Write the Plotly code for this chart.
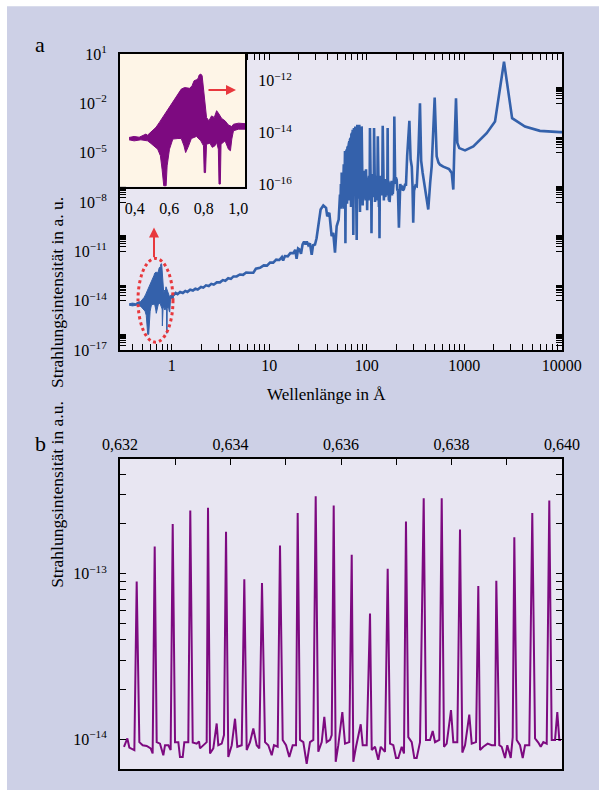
import plotly.graph_objects as go

# ---------------- DATA ----------------
# Panel a / inset: dense spectrum 0.37-1.04 Å drawn as an envelope band
# wavelength in Å, log10 of intensity (a.u.)
band_upper_x = [0.3666, 0.3959, 0.4252, 0.4643, 0.474, 0.4937, 0.5093, 0.523, 0.5425, 0.562,
                0.5816, 0.6012, 0.6207, 0.6403, 0.6598, 0.6696, 0.6892, 0.7185, 0.7322, 0.7439,
                0.7576, 0.7674, 0.7732, 0.783, 0.7908, 0.7967, 0.8065, 0.8162, 0.8299, 0.8456,
                0.8612, 0.8749, 0.8886, 0.9042, 0.9238, 0.9433, 0.9629, 0.9726, 1.002, 1.041]
band_upper_log = [-14.18, -14.14, -14.17, -14.05, -14.09, -13.96, -13.86, -13.79, -13.60, -13.41,
                  -13.22, -13.03, -12.83, -12.64, -12.45, -12.32, -12.26, -12.29, -12.19, -12.00,
                  -11.96, -11.91, -11.78, -11.74, -11.81, -12.19, -12.83, -13.41, -13.54, -13.35,
                  -13.41, -13.15, -13.28, -13.45, -13.54, -13.70, -13.76, -13.67, -13.63, -13.65]
band_lower_x = [0.3666, 0.3959, 0.435, 0.474, 0.4937, 0.5132, 0.5328, 0.5484, 0.5582, 0.5679,
                0.5816, 0.5875, 0.6012, 0.6207, 0.6501, 0.6696, 0.6853, 0.695, 0.7087, 0.7283,
                0.7576, 0.783, 0.7986, 0.8026, 0.8104, 0.8162, 0.8358, 0.8495, 0.8651, 0.8749,
                0.8847, 0.8886, 0.8964, 0.9003, 0.9238, 0.9433, 0.955, 0.9629, 0.9726, 1.002, 1.041]
band_lower_log = [-14.27, -14.31, -14.27, -14.31, -14.41, -14.50, -14.63, -14.88, -15.40, -16.04,
                  -16.04, -15.27, -14.63, -14.24, -14.22, -14.22, -14.50, -14.76, -14.56, -14.22,
                  -14.14, -14.31, -14.50, -15.53, -15.53, -14.44, -14.40, -14.56, -14.50, -14.37,
                  -14.63, -15.97, -15.97, -14.44, -14.31, -14.63, -14.69, -14.24, -13.92, -13.86, -13.86]

# Panel a: rest of the spectrum (wavelength in Å, log10 intensity)
main_x = [1.041, 1.1, 1.15, 1.22, 1.3, 1.38, 1.45, 1.55, 1.65, 1.75, 1.85, 2.0, 2.11, 2.25, 2.4,
          2.55, 2.7, 2.9, 3.13, 3.35, 3.55, 3.8, 4.05, 4.3, 4.64, 5.0, 5.4, 5.8, 6.3, 6.87,
          7.3, 8.05, 8.8, 9.5, 10.2, 11.0, 11.8, 12.7, 13.5, 13.9, 14.5, 15.5, 16.5, 17.7, 18.5,
          19.1, 19.8, 20.5, 21.2, 22.0, 22.8, 23.6, 24.3, 25.2, 26.2, 27.3, 28.2, 29.5, 30.6, 31.9,
          33.7, 35.9, 38.3, 39.4, 41.4, 43.7, 45.4, 47.3, 49.2, 51.6,
          53.2, 53.8, 54.4, 55.0, 55.4, 55.9, 56.3, 56.8, 57.2, 57.7, 58.2, 58.7, 59.3, 59.9, 60.3,
          60.5, 60.9, 61.4, 61.9, 62.4, 62.9, 63.4, 63.9, 64.4, 64.9, 65.4, 65.9, 66.4, 66.9, 67.4,
          67.9, 68.5, 69.0, 69.6, 70.2, 70.8, 71.3, 71.8, 72.4, 72.9, 73.4, 74.0, 74.6, 75.2, 75.8,
          76.4, 77.0, 77.6, 78.2, 79.0, 79.6, 80.1, 80.8, 81.4, 82.0, 82.7, 83.4, 84.0, 84.7, 85.4,
          86.1, 86.8, 87.5, 88.1, 88.8, 89.5, 90.2, 91.0, 91.8, 92.6, 93.4, 94.2, 95.0, 95.8, 96.6,
          97.4, 98.4, 99.3, 100.2, 101.1, 102.0, 102.9, 103.8, 104.7, 105.6, 106.5, 107.3, 108.0, 108.8, 109.6,
          110.4, 111.2, 112.0, 112.8, 113.7, 114.6, 115.5, 116.4, 117.3, 118.2, 119.0, 119.9, 120.8, 121.8, 122.8,
          123.8, 124.8, 125.8, 126.8, 127.8, 128.9, 130.0, 131.1, 132.2, 133.4, 134.5, 135.3, 136.3, 137.4, 138.6,
          139.8, 141.0, 142.2, 143.4, 144.6, 146.0, 147.3, 148.6, 150.0, 151.4, 152.8, 154.2, 155.6, 157.0, 158.4,
          159.9, 161.4, 162.8, 164.0, 165.5, 167.0, 168.6, 170.2, 171.8, 173.4, 175.0, 176.6, 178.3, 180.0, 181.7,
          183.4, 185.2, 187.0, 188.8, 190.5, 192.0, 193.8, 196.0, 199.0, 203.0, 206.0, 209.0, 214.0, 218.0, 221.0,
          224.0, 229.0, 235.0, 241.0, 247.0, 253.0, 260.0, 274.0, 282.0, 290.0, 295.0, 300.0, 306.0, 316.0, 326.0,
          339.0, 352.0, 362.0, 375.0, 396.0, 428.0, 448.0, 464.0, 498.0, 512.0, 522.0, 545.0, 565.0, 610.0, 661.0,
          700.0, 745.0, 773.0, 790.0, 824.0, 850.0, 890.0, 1020.0, 1240.0, 1700.0, 2070.0, 2560.0, 3100.0, 4200.0, 5980.0,
          9600.0, 10100.0]
main_log = [-13.66, -13.52, -13.60, -13.47, -13.53, -13.40, -13.46, -13.33, -13.38, -13.26, -13.31, -13.16, -13.20, -13.06, -13.10,
            -12.97, -13.02, -12.88, -12.88, -12.74, -12.78, -12.63, -12.67, -12.52, -12.52, -12.40, -12.42, -12.28, -12.30, -12.30,
            -12.05, -12.00, -11.85, -11.86, -11.68, -11.68, -11.50, -11.52, -11.34, -11.55, -11.28, -11.30, -11.10, -11.10, -10.90,
            -11.45, -10.82, -10.88, -11.15, -10.58, -10.40, -10.58, -10.40, -10.62, -10.52, -11.20, -10.62, -10.58, -10.20, -9.47,
            -8.45, -8.21, -8.35, -8.86, -8.65, -10.07, -9.87, -11.08, -9.47, -9.06,
            -7.55, -8.20, -6.90, -8.40, -6.20, -8.10, -6.50, -8.30, -5.90, -8.00, -5.70, -8.40, -5.30, -4.90, -8.20,
            -10.50, -7.50, -5.00, -7.90, -4.80, -8.10, -4.70, -7.60, -4.60, -7.90, -4.50, -7.40, -4.30, -7.80, -4.20,
            -7.60, -4.10, -8.30, -3.90, -7.70, -3.80, -7.90, -3.60, -8.00, -10.00, -7.20, -3.50, -7.50, -3.50, -7.60,
            -3.40, -7.80, -3.40, -8.10, -10.30, -7.40, -3.30, -7.80, -3.35, -7.70, -3.40, -7.50, -3.30, -7.40, -8.60,
            -3.50, -7.30, -6.80, -7.60, -3.40, -7.20, -6.30, -8.20, -6.50, -7.40, -6.10, -7.80, -6.40, -7.30, -6.20,
            -7.90, -6.00, -7.40, -6.60, -8.50, -6.50, -7.60, -6.70, -7.90, -6.40, -7.50, -6.80, -3.50, -7.40, -6.50,
            -7.80, -6.60, -9.90, -7.20, -6.30, -7.60, -6.50, -7.70, -6.40, -7.50, -3.50, -7.30, -6.50, -8.00, -6.40,
            -7.60, -6.60, -7.90, -6.50, -7.30, -6.60, -4.00, -7.50, -6.60, -8.30, -7.00, -10.20, -7.20, -6.40, -7.60,
            -6.60, -7.40, -6.50, -7.60, -6.70, -3.36, -7.40, -6.60, -7.90, -6.70, -7.50, -6.60, -7.70, -6.80, -7.30,
            -6.60, -7.50, -6.80, -3.50, -7.60, -6.70, -7.90, -6.80, -8.00, -6.90, -7.60, -6.80, -7.40, -6.70, -7.60,
            -6.90, -7.50, -6.80, -7.20, -6.50, -2.80, -6.40, -6.90, -6.50, -6.64, -7.30, -7.20, -9.56, -7.30, -6.90,
            -7.10, -7.00, -7.30, -7.20, -6.95, -6.95, -5.20, -3.06, -5.40, -5.85, -7.00, -9.26, -7.30, -7.00, -7.04,
            -5.00, -1.99, -5.50, -6.23, -7.24, -8.45, -6.80, -5.83, -1.65, -4.50, -5.22, -5.60, -5.73, -5.85, -5.93,
            -6.00, -6.23, -7.24, -5.00, -1.69, -4.40, -4.72, -4.86, -4.62, -3.81, -3.10, 0.53, -2.90, -3.41, -3.67,
            -3.75, -3.75]

# Panel b: line peaks (wavelength in Å, intensity in units of 1e-14 a.u.)
b_peak_x = [0.632302, 0.632628, 0.632954, 0.633272, 0.633593, 0.633919, 0.634250, 0.634570,
            0.634896, 0.635216, 0.635542, 0.635868, 0.636194, 0.636525, 0.636845, 0.637176,
            0.637497, 0.637823, 0.638154, 0.638485, 0.638811, 0.639137, 0.639462, 0.639770]
b_peak_y = [8.98, 14.6, 19.95, 24.1, 25.0, 17.9, 9.24, 8.79, 14.8, 23.3, 29.4, 25.8,
            13.0, 5.74, 10.7, 20.7, 28.6, 28.6, 18.5, 8.43, 9.07, 16.6, 23.3, 27.7]
# Panel b: background between the lines
b_base_x = [0.632072, 0.632133, 0.632169, 0.632260,
            0.632350, 0.632411, 0.632483, 0.632555, 0.632591,
            0.632664, 0.632724, 0.632784, 0.632815, 0.632875, 0.632917,
            0.632996, 0.633056, 0.633086, 0.633135, 0.633164, 0.633236,
            0.633316, 0.633388, 0.633430, 0.633448, 0.633508, 0.633569,
            0.633629, 0.633689, 0.633750, 0.633779, 0.633841, 0.633882,
            0.633960, 0.634022, 0.634082, 0.634123, 0.634203,
            0.634293, 0.634353, 0.634413, 0.634474, 0.634521,
            0.634625, 0.634684, 0.634746, 0.634787, 0.634854,
            0.634945, 0.635005, 0.635064, 0.635126, 0.635186,
            0.635258, 0.635318, 0.635379, 0.635439, 0.635499,
            0.635589, 0.635651, 0.635698, 0.635741, 0.635801, 0.635832,
            0.635904, 0.635951, 0.636024, 0.636073, 0.636150,
            0.636223, 0.636272, 0.636357, 0.636393, 0.636465,
            0.636556, 0.636616, 0.636675, 0.636719, 0.636797,
            0.636887, 0.636947, 0.636996, 0.637037, 0.637099, 0.637140,
            0.637218, 0.637280, 0.637327, 0.637370, 0.637430,
            0.637539, 0.637611, 0.637660, 0.637702, 0.637779,
            0.637864, 0.637913, 0.637991, 0.638033, 0.638105,
            0.638196, 0.638245, 0.638322, 0.638366, 0.638444,
            0.638516, 0.638576, 0.638655, 0.638728, 0.638788,
            0.638865, 0.638908, 0.638969, 0.639010, 0.639072, 0.639108,
            0.639180, 0.639240, 0.639289, 0.639331, 0.639408,
            0.639512, 0.639571, 0.639615, 0.639662, 0.639723,
            0.639814, 0.639874, 0.639915, 0.639951, 0.639982]
b_base_y = [0.90, 1.01, 0.89, 0.86,
            0.96, 0.92, 0.91, 0.88, 0.82,
            0.96, 0.94, 0.80, 0.92, 0.92, 0.86,
            0.96, 0.96, 0.78, 0.78, 0.96, 0.96,
            0.955, 0.94, 0.97, 0.88, 0.92, 0.96,
            0.82, 0.88, 1.245, 0.92, 0.94, 1.06,
            0.78, 0.92, 1.33, 0.90, 0.92,
            0.86, 0.96, 1.16, 0.92, 0.88,
            0.96, 0.92, 0.80, 0.92, 0.90,
            0.99, 0.92, 0.78, 0.92, 0.92,
            0.99, 0.96, 0.71, 0.96, 0.99,
            0.84, 0.96, 1.365, 0.96, 0.99, 1.06,
            0.73, 0.92, 1.46, 0.94, 0.96,
            0.73, 0.90, 1.23, 0.92, 0.92,
            0.86, 0.90, 0.75, 0.90, 0.84,
            0.94, 0.92, 0.77, 0.77, 0.90, 0.82,
            1.03, 0.96, 0.77, 0.77, 0.96,
            0.99, 0.99, 1.12, 0.96, 0.99,
            0.90, 0.94, 1.50, 0.96, 0.96,
            0.83, 0.92, 1.41, 0.94, 0.96,
            0.86, 0.90, 0.94, 0.92, 0.92,
            0.92, 0.90, 0.77, 0.92, 0.77, 1.03,
            0.99, 0.92, 0.77, 0.92, 0.92,
            1.01, 0.955, 0.90, 0.96, 0.94,
            0.99, 0.99, 1.46, 0.99, 0.99]

# tick labels
a_x_ticks = [1, 10, 100, 1000, 10000]
a_x_labels = ["1", "10", "100", "1000", "10000"]
a_y_exps = [-17, -14, -11, -8, -5, -2, 1]
inset_x_ticks = [0.4, 0.6, 0.8, 1.0]
inset_x_labels = ["0,4", "0,6", "0,8", "1,0"]
inset_y_exps = [-16, -14, -12]
b_x_ticks = [0.632, 0.634, 0.636, 0.638, 0.640]
b_x_labels = ["0,632", "0,634", "0,636", "0,638", "0,640"]
b_x_minor = [0.633, 0.635, 0.637, 0.639]
b_y_exps = [-14, -13]

# ---------------- FIGURE ----------------
BLUE = "#3461ab"
PURPLE = "#7d0a80"
OUTER = "#cdd0e6"
PLOTBG = "#e8e6f2"
INSETBG = "#fef5e7"
RED = "#e8383d"
FONT = "Liberation Serif"

A_XR = [-0.530, 4.003]
A_YR = [-17, 1]
I_XR = [0.314, 1.04]
I_YR = [-16.07, -10.97]
B_XR = [0.632, 0.640]
B_YR = [-14.18, -12.306]


def sup(e, pad=""):
    s = str(e).replace("-", "\u2212")
    return "10<sup>%s</sup>%s" % (s, pad)


band_x = band_upper_x + band_lower_x[::-1]
band_y = [10 ** v for v in band_upper_log] + [10 ** v for v in band_lower_log[::-1]]

b_pts = sorted(list(zip(b_base_x, [v * 1e-14 for v in b_base_y])) +
               list(zip(b_peak_x, [v * 1e-14 for v in b_peak_y])))

fig = go.Figure()
fig.add_trace(go.Scatter(x=band_x, y=band_y, mode="lines", fill="toself", fillcolor=BLUE,
                         line=dict(color=BLUE, width=1), xaxis="x", yaxis="y", hoverinfo="skip"))
fig.add_trace(go.Scatter(x=main_x, y=[10 ** v for v in main_log], mode="lines",
                         line=dict(color=BLUE, width=2.6), xaxis="x", yaxis="y", hoverinfo="skip"))
fig.add_trace(go.Scatter(x=band_x, y=band_y, mode="lines", fill="toself", fillcolor=PURPLE,
                         line=dict(color=PURPLE, width=1), xaxis="x3", yaxis="y3", hoverinfo="skip"))
fig.add_trace(go.Scatter(x=[p[0] for p in b_pts], y=[p[1] for p in b_pts], mode="lines",
                         line=dict(color=PURPLE, width=2), xaxis="x2", yaxis="y2", hoverinfo="skip"))

# tick positions: labelled major ticks + unlabelled minor ticks (one tick list per axis)
a_x_minor = [k * 10 ** n for n in range(-1, 4) for k in range(2, 10) if 0.29 < k * 10 ** n < 10000]
a_y_minor = [k * 10.0 ** n for n in a_y_exps for k in range(2, 10) if n < 1]
b_y_minor = [k * 1e-14 for k in range(2, 10)] + [k * 1e-13 for k in range(2, 5)]

PAD = "\u00a0\u00a0"
ax_vals = a_x_ticks + a_x_minor
ax_text = a_x_labels + [" "] * len(a_x_minor)
ay_vals = [10.0 ** e for e in a_y_exps] + a_y_minor
ay_text = [sup(e, PAD) for e in a_y_exps] + [" "] * len(a_y_minor)
bx_vals = b_x_ticks + b_x_minor
bx_text = b_x_labels + [" "] * len(b_x_minor)
by_vals = [10.0 ** e for e in b_y_exps] + b_y_minor
by_text = [sup(e, PAD) for e in b_y_exps] + [" "] * len(b_y_minor)

F16 = dict(family=FONT, size=16, color="black")
LINE = dict(showline=True, linecolor="black", linewidth=2, showgrid=False, zeroline=False)
TICK = dict(ticks="inside", ticklen=6, tickwidth=1.3, tickcolor="black")

fig.update_layout(
    width=599, height=790,
    margin=dict(l=120, r=37, t=54, b=19),
    paper_bgcolor=OUTER, plot_bgcolor=PLOTBG,
    showlegend=False, hovermode=False,
    font=dict(family=FONT, color="black"),
    xaxis=dict(type="log", range=A_XR, domain=[0, 1], anchor="y", tickangle=0,
               tickmode="array", tickvals=ax_vals, ticktext=ax_text, tickfont=F16,
               mirror="ticks", **TICK, **LINE),
    yaxis=dict(type="log", range=A_YR, domain=[0.5858, 1], anchor="x", tickangle=0,
               tickmode="array", tickvals=ay_vals, ticktext=ay_text, tickfont=F16,
               mirror="ticks", **TICK, **LINE),
    xaxis3=dict(range=I_XR, domain=[0, 0.283], anchor="y3", tickangle=0,
                tickmode="array", tickvals=inset_x_ticks, ticktext=inset_x_labels, tickfont=F16,
                ticks="outside", ticklen=6, tickcolor="rgba(0,0,0,0)", mirror=True, **LINE),
    yaxis3=dict(type="log", range=I_YR, domain=[0.8145, 1], anchor="x3", side="right",
                tickangle=0, tickmode="array", tickvals=[10.0 ** e for e in inset_y_exps],
                ticktext=[sup(e) for e in inset_y_exps], tickfont=F16,
                ticks="outside", ticklen=8, tickcolor="rgba(0,0,0,0)", mirror=True, **LINE),
    xaxis2=dict(range=B_XR, domain=[0, 1], anchor="y2", side="top", tickangle=0,
                tickmode="array", tickvals=bx_vals, ticktext=bx_text, tickfont=F16,
                mirror=True, **TICK, **LINE),
    yaxis2=dict(type="log", range=B_YR, domain=[0, 0.4338], anchor="x2", tickangle=0,
                tickmode="array", tickvals=by_vals, ticktext=by_text, tickfont=F16,
                mirror="ticks", **TICK, **LINE),
)

shapes = [
    # inset background (data refs of the inset, spanning its full range)
    dict(type="rect", xref="x3", yref="y3", x0=I_XR[0], x1=I_XR[1],
         y0=10 ** I_YR[0], y1=10 ** I_YR[1],
         fillcolor=INSETBG, line=dict(width=0), layer="between"),
    # white page border (top and left)
    dict(type="rect", xref="paper", yref="paper", x0=-0.3, x1=1.2, y0=765 / 717, y1=1.2,
         fillcolor="white", line=dict(width=0), layer="above"),
    dict(type="rect", xref="paper", yref="paper", x0=-0.3, x1=-113 / 442, y0=-0.1, y1=1.2,
         fillcolor="white", line=dict(width=0), layer="above"),
    # dotted ellipse
    dict(type="circle", xref="paper", yref="paper",
         x0=18 / 442, x1=53 / 442, y0=(771 - 343) / 717, y1=(771 - 259) / 717,
         line=dict(color=RED, width=3, dash="dot"), layer="above"),
]
fig.update_layout(shapes=shapes)

ann = [
    dict(text="a", xref="paper", yref="paper", x=-0.197, y=(771 - 30) / 717, showarrow=False,
         font=dict(family=FONT, size=22)),
    dict(text="b", xref="paper", yref="paper", x=-0.197, y=(771 - 445) / 717, showarrow=False,
         font=dict(family=FONT, size=22)),
    dict(text="Strahlungsintensität in a. u.", xref="paper", yref="paper", x=-0.170,
         y=(771 - 195) / 717, textangle=-90, showarrow=False, font=dict(family=FONT, size=17.5)),
    dict(text="Wellenlänge in Å", xref="paper", yref="paper", x=(326 - 120) / 442,
         y=(771 - 395) / 717, showarrow=False, font=dict(family=FONT, size=17)),
    dict(text="Strahlungsintensität in a.u.", xref="paper", yref="paper", x=-0.170,
         y=(771 - 591) / 717, textangle=-90, showarrow=False, font=dict(family=FONT, size=17.5)),
    # red arrows
    dict(text="", xref="paper", yref="paper", x=34 / 442, y=(771 - 228) / 717,
         showarrow=True, ax=0, ay=31, arrowcolor=RED, arrowwidth=2, arrowhead=2, arrowsize=1),
    dict(text="", xref="paper", yref="paper", x=116 / 442, y=(771 - 90) / 717,
         showarrow=True, ax=-29, ay=0, arrowcolor=RED, arrowwidth=2, arrowhead=2, arrowsize=1),
]
fig.update_layout(annotations=ann)

fig.write_html("out.html")
